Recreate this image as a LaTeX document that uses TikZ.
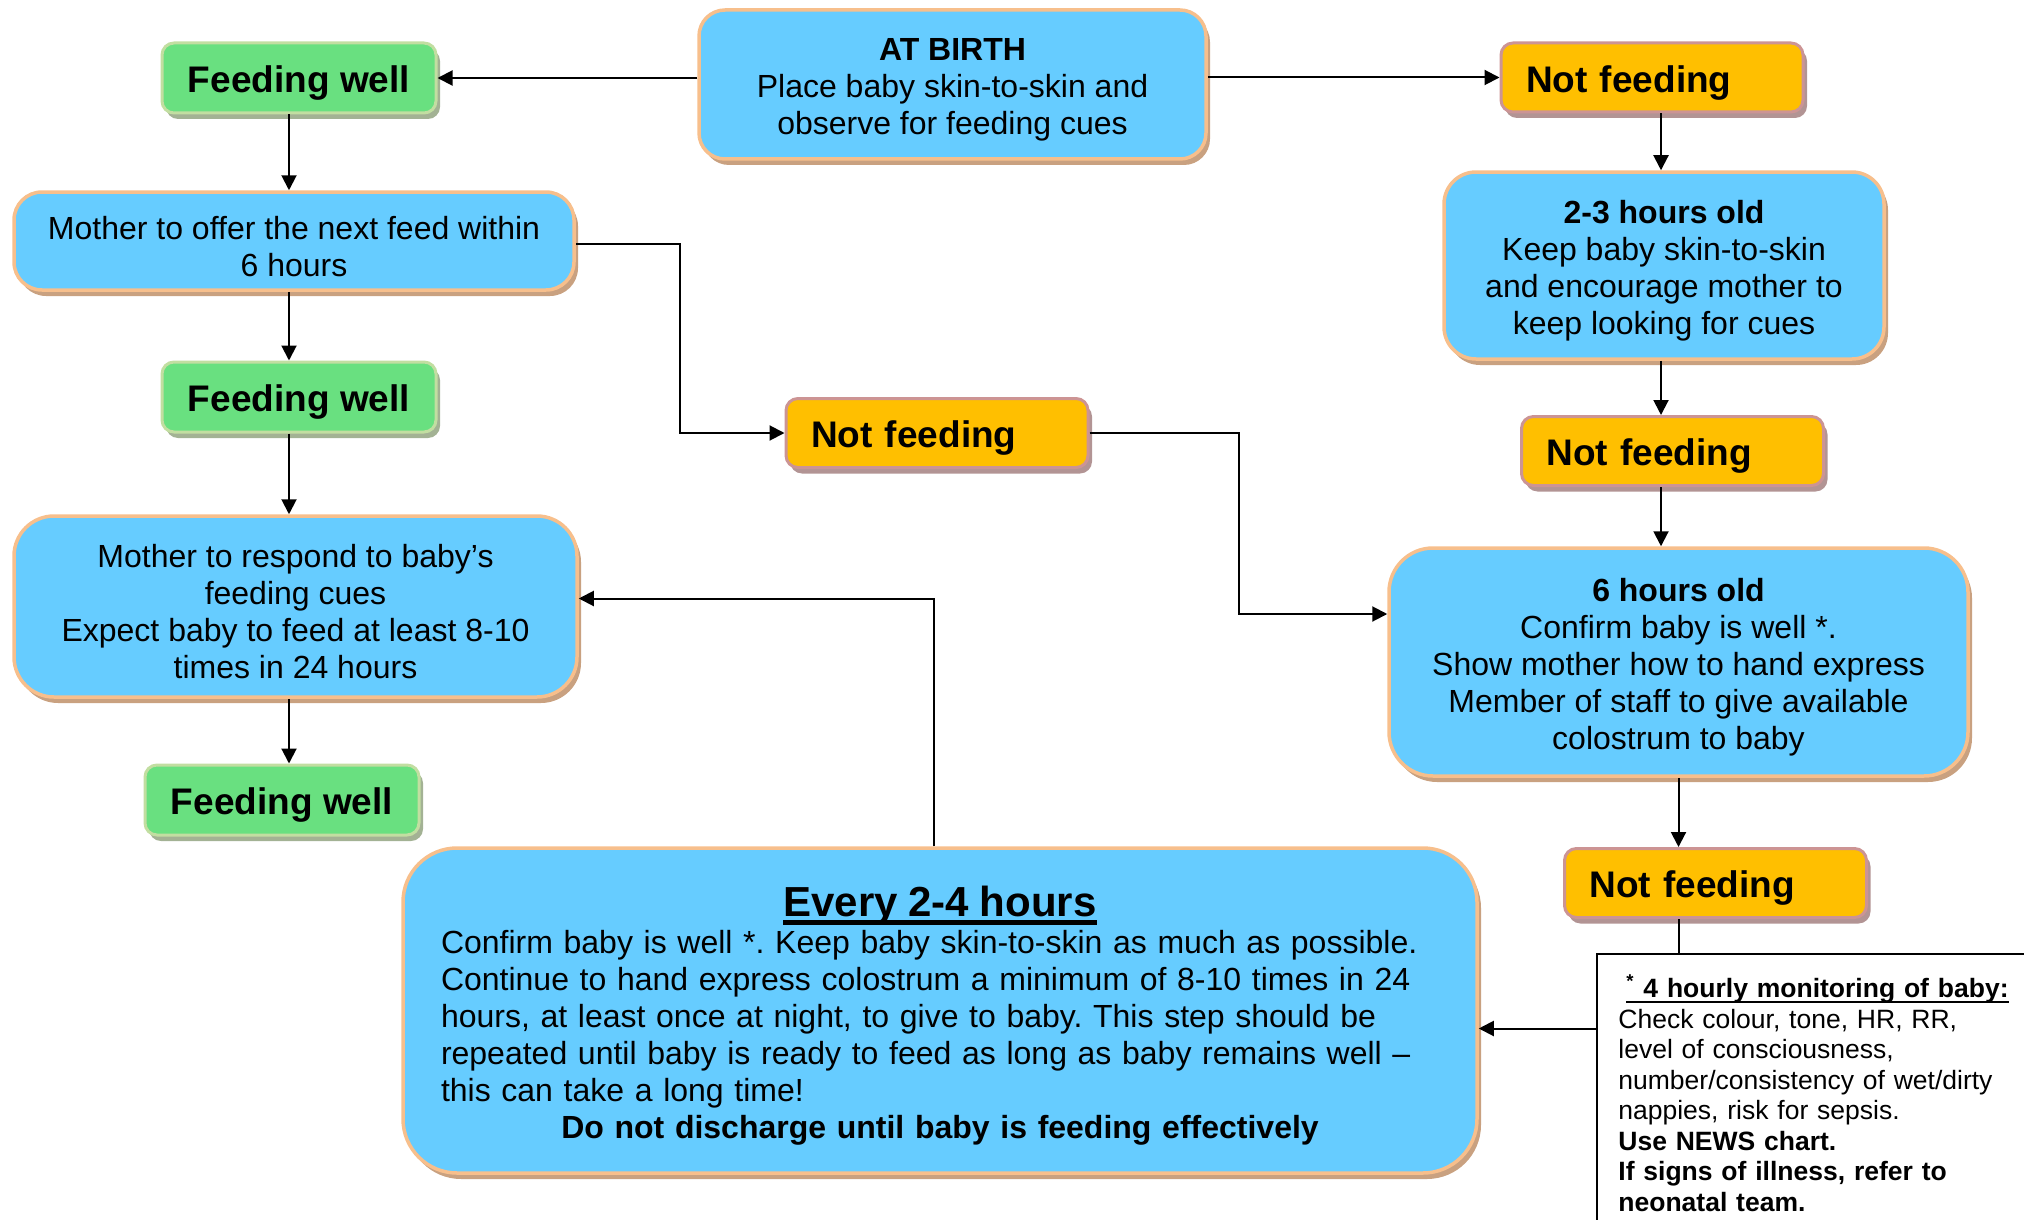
\documentclass[tikz,border=0pt]{standalone}
\usepackage{fontspec}
\setmainfont{Liberation Sans}
\usetikzlibrary{arrows.meta,shadows}
\definecolor{bleuciel}{rgb}{0.4, 0.8, 1.0}
\definecolor{peche}{rgb}{0.97, 0.75, 0.55}
\definecolor{ombrebleue}{rgb}{0.79, 0.63, 0.50}
\definecolor{vertclair}{rgb}{0.41, 0.88, 0.50}
\definecolor{bordvert}{rgb}{0.76, 0.87, 0.63}
\definecolor{ombreverte}{rgb}{0.64, 0.70, 0.58}
\definecolor{ambre}{rgb}{1.0, 0.75, 0.0}
\definecolor{bordorange}{rgb}{0.80, 0.58, 0.58}
\definecolor{ombreorange}{rgb}{0.70, 0.58, 0.58}
\newsavebox{\boitemot}
\newcommand{\souligne}[3]{\sbox{\boitemot}{#3}\rlap{\rule[-#1]{\wd\boitemot}{#2}}\usebox{\boitemot}}
\newcommand{\calage}[1]{\rule{0pt}{#1}}
\newcommand{\policecorps}{\fontsize{16}{18.5}\selectfont}
\newcommand{\policeetiquette}{\fontsize{18.5}{21}\selectfont\bfseries}
\newcommand{\policenote}{\fontsize{13.25}{15.25}\selectfont}
\frenchspacing
\begin{document}
\begin{tikzpicture}[x=0.5pt, y=-0.5pt]
		% STYLES
		\tikzstyle{boitebleue} = [rectangle, fill=bleuciel, draw=peche, line width=1.75pt, align=center, font=\policecorps,
			drop shadow={shadow xshift=2pt, shadow yshift=-3pt, fill=ombrebleue, opacity=1}]
		\tikzstyle{boiteverte} = [rectangle, rounded corners=6pt, fill=vertclair, draw=bordvert, line width=1.5pt,
			minimum width=137pt, minimum height=35pt, text height=15pt, text depth=0.4pt, font=\policeetiquette,
			drop shadow={shadow xshift=2pt, shadow yshift=-3pt, fill=ombreverte, opacity=1}]
		\tikzstyle{boiteorange} = [rectangle, rounded corners=6pt, fill=ambre, draw=bordorange, line width=1.5pt,
			text width=126pt, inner xsep=12.5pt, minimum height=34.5pt, text height=15pt, text depth=0.4pt,
			align=left, font=\policeetiquette,
			drop shadow={shadow xshift=2pt, shadow yshift=-3pt, fill=ombreorange, opacity=1}]
		\tikzstyle{fleche} = [line width=1pt, -{Triangle[length=7.5pt, width=7.5pt]}]
		\tikzstyle{trait} = [line width=1pt]

		% CADRE
		\coordinate (coinPage) at (2024, 1220);
		\useasboundingbox (0, 0) rectangle (coinPage);
		\coordinate (colG) at (289, 0);
		\coordinate (colD) at (1661, 0);
		\coordinate (coudeA) at (680, 0);
		\coordinate (coudeB) at (1239, 520);
		\coordinate (coudeC) at (934, 0);

		% BOITES
		\node[boitebleue, rounded corners=13pt, minimum width=253.5pt, minimum height=74.5pt] (naissance) at (952.5, 84.5)
			{\calage{16.7pt}\textbf{AT BIRTH}\\Place baby skin-to-skin and\\observe for feeding cues};
		\node[boiteverte] (bien1) at (299, 78) {Feeding well};
		\node[boiteorange] (pas1) at (1652, 77.5) {Not feeding};
		\node[boitebleue, rounded corners=14pt, minimum width=280pt, minimum height=49pt] (offre) at (294, 241)
			{\calage{16.7pt}Mother to offer the next feed within\\6 hours};
		\node[boitebleue, rounded corners=16pt, minimum width=220pt, minimum height=93.5pt] (deuxtrois) at (1664, 265.5)
			{\calage{16.7pt}\textbf{2-3 hours old}\\Keep baby skin-to-skin\\and encourage mother to\\keep looking for cues};
		\node[boiteverte] (bien2) at (299, 397) {Feeding well};
		\node[boiteorange] (pasmilieu) at (937, 433) {Not feeding};
		\node[boiteorange] (pas2) at (1672.5, 451) {Not feeding};
		\node[boitebleue, rounded corners=20pt, minimum width=281.5pt, minimum height=90.5pt] (reponse) at (295.5, 606.5)
			{\calage{16.7pt}Mother to respond to baby’s\\feeding cues\\Expect baby to feed at least 8-10\\times in 24 hours};
		\node[boitebleue, rounded corners=22pt, minimum width=289.5pt, minimum height=114pt] (sixheures) at (1678.5, 662)
			{\calage{16.7pt}\textbf{6 hours old}\\Confirm baby is well *.\\Show mother how to hand express\\Member of staff to give available\\colostrum to baby};
		\node[boiteverte] (bien3) at (282, 800) {Feeding well};
		\node[boiteorange] (pas3) at (1715.5, 883) {Not feeding};
		\node[boitebleue, rounded corners=27pt, minimum height=162.5pt, text width=499pt, inner xsep=19pt, align=left] (chaque) at (940, 1010.5)
			{{\centering\fontsize{21}{24}\selectfont\bfseries\calage{20.3pt}\souligne{4.5pt}{2.5pt}{Every 2-4 hours}\par}
			Confirm baby is well *. Keep baby skin-to-skin as much as possible.\\
			Continue to hand express colostrum a minimum of 8-10 times in 24\\
			hours, at least once at night, to give to baby. This step should be\\
			repeated until baby is ready to feed as long as baby remains well –\\
			this can take a long time!\par
			{\centering\bfseries Do not discharge until baby is feeding effectively\par}};

		% NOTE
		\node[anchor=north west, inner xsep=10.5pt, inner ysep=10pt, text width=205pt, align=left, font=\policenote] (note) at (1597, 954)
			{\textbf{\hspace*{4pt}\souligne{2.5pt}{1pt}{\textsuperscript{*} 4 hourly monitoring of baby:}}\\
			Check colour, tone, HR, RR,\\level of consciousness,\\number/consistency of wet/dirty\\nappies, risk for sepsis.\\
			\textbf{Use NEWS chart.}\\\textbf{If signs of illness, refer to}\\\textbf{neonatal team.}};
		\draw[trait] (note.north west |- coinPage) -- (note.north west) -- (note.north west -| coinPage);
		\coordinate (entreeChaque) at ([yshift=-9pt]chaque.east);

		% FLECHES
		\draw[fleche] (naissance.west |- bien1) -- (bien1.east);
		\draw[fleche] (naissance.east |- pas1) -- (pas1.west);
		\draw[fleche] (bien1.south -| colG) -- (offre.north -| colG);
		\draw[fleche] (offre.south -| colG) -- (bien2.north -| colG);
		\draw[fleche] (bien2.south -| colG) -- (reponse.north -| colG);
		\draw[fleche] (reponse.south -| colG) -- (bien3.north -| colG);
		\draw[fleche] (pas1.south -| colD) -- (deuxtrois.north -| colD);
		\draw[fleche] (deuxtrois.south -| colD) -- (pas2.north -| colD);
		\draw[fleche] (pas2.south -| colD) -- (sixheures.north -| colD);
		\draw[fleche] ([yshift=-1.5pt]offre.east) -| (pasmilieu.west -| coudeA) -- (pasmilieu.west);
		\draw[fleche] (pasmilieu.east) -| (coudeB) |- ([yshift=24pt]sixheures.west);
		\draw[fleche] (sixheures.south) -- (pas3.north -| sixheures.south);
		\draw[trait] (pas3.south -| sixheures.south) -- (note.north -| sixheures.south);
		\draw[fleche] (note.west |- entreeChaque) -- (entreeChaque);
		\draw[fleche] (chaque.north -| coudeC) |- ([yshift=4pt]reponse.east);

	\end{tikzpicture}
\end{document}
